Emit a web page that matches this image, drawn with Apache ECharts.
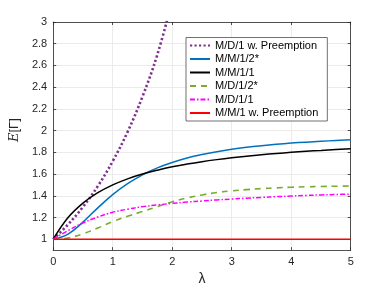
<!DOCTYPE html>
<html>
<head>
<meta charset="utf-8">
<script src="https://cdn.jsdelivr.net/npm/echarts@6/dist/echarts.min.js"></script>
<style>html,body{margin:0;padding:0;background:#fff}#c{width:388px;height:291px}</style>
</head>
<body>
<div id="c"></div>
<script>
var lambda = [0, 0.25, 0.5, 0.75, 1, 1.25, 1.5, 1.75, 2, 2.25, 2.5, 2.75, 3, 3.25, 3.5, 3.75, 4, 4.25, 4.5, 4.75, 5];
var mdPre = [1, 1.136, 1.297, 1.489, 1.718, 1.988, 2.312, 2.699, 3.195];
var mm12 = [1, 1.047, 1.158, 1.289, 1.410, 1.511, 1.593, 1.657, 1.707, 1.748, 1.780, 1.806, 1.828, 1.846, 1.861, 1.874, 1.885, 1.894, 1.902, 1.909, 1.916];
var mm11 = [1, 1.2, 1.333, 1.429, 1.5, 1.556, 1.6, 1.636, 1.667, 1.692, 1.714, 1.733, 1.75, 1.765, 1.778, 1.789, 1.8, 1.81, 1.818, 1.826, 1.833];
var md12 = [1, 1.012, 1.05, 1.103, 1.162, 1.212, 1.255, 1.3, 1.345, 1.38, 1.408, 1.43, 1.445, 1.457, 1.466, 1.473, 1.479, 1.483, 1.486, 1.488, 1.49];
var md11 = [1, 1.08, 1.15, 1.205, 1.248, 1.277, 1.3, 1.316, 1.33, 1.342, 1.352, 1.362, 1.37, 1.378, 1.385, 1.392, 1.398, 1.403, 1.408, 1.412, 1.415];
var mmPre = [1, 1, 1, 1, 1, 1, 1, 1, 1, 1, 1, 1, 1, 1, 1, 1, 1, 1, 1, 1, 1];
var names = ['M/D/1 w. Preemption', 'M/M/1/2*', 'M/M/1/1', 'M/D/1/2*', 'M/D/1/1', 'M/M/1 w. Preemption'];
var xTicks = [0, 1, 2, 3, 4, 5];
var yTicks = [1, 1.2, 1.4, 1.6, 1.8, 2, 2.2, 2.4, 2.6, 2.8, 3];

function pairs(ys) { return ys.map(function (v, i) { return [lambda[i], v]; }); }

var axisColor = '#262626';
var font = 'Liberation Sans, Arial, Helvetica, sans-serif';
var chart = echarts.init(document.getElementById('c'));
function mk(name, ys, color, type, width) {
  return {
    name: name, type: 'line', data: pairs(ys), smooth: 0.4,
    symbol: 'none', showSymbol: false, animation: false,
    lineStyle: { color: color, width: width, type: type }, itemStyle: { color: color }
  };
}
chart.setOption({
  animation: false,
  textStyle: { fontFamily: font },
  grid: { left: 50.7, right: 37.3, top: 22, bottom: 32.5 },
  legend: {
    orient: 'vertical', left: 186, top: 37.5,
    data: names,
    backgroundColor: '#fff', borderColor: '#4d4d4d', borderWidth: 0.8, borderRadius: 0,
    padding: [2, 9, 2, 3], itemGap: 1.5, itemWidth: 20, itemHeight: 10,
    itemStyle: { opacity: 0, borderWidth: 0 },
    lineStyle: { opacity: 1 },
    textStyle: { fontSize: 11, color: '#000', fontFamily: font, lineHeight: 12 }
  },
  xAxis: [{
    type: 'value', min: 0, max: 5, interval: 1,
    name: 'λ', nameLocation: 'middle', nameGap: 20,
    nameTextStyle: { fontSize: 14, color: axisColor, fontFamily: font },
    axisLine: { onZero: false, lineStyle: { color: axisColor, width: 0.8 } },
    axisTick: { inside: true, length: 3, lineStyle: { color: axisColor, width: 0.8 } },
    axisLabel: { color: axisColor, fontSize: 11, margin: 6, fontFamily: font, customValues: xTicks },
    splitLine: { show: true, lineStyle: { color: '#ebebeb', width: 1 } }
  }, {
    type: 'value', min: 0, max: 5, interval: 1, position: 'top',
    axisLine: { onZero: false, lineStyle: { color: axisColor, width: 0.8 } },
    axisTick: { inside: true, length: 3, lineStyle: { color: axisColor, width: 0.8 } },
    axisLabel: { show: false }, splitLine: { show: false }
  }],
  yAxis: [{
    type: 'value', min: 0.9, max: 3,
    name: '{i|E}[Γ]', nameLocation: 'middle', nameGap: 24, nameRotate: 90,
    nameTextStyle: { fontSize: 13, color: axisColor, fontFamily: font, padding: [0, 0, 0, 12],
      rich: { i: { fontStyle: 'italic', fontSize: 13, color: axisColor, fontFamily: 'DejaVu Serif, serif' } } },
    axisLine: { onZero: false, lineStyle: { color: axisColor, width: 0.8 } },
    axisTick: { inside: true, length: 3, customValues: yTicks, lineStyle: { color: axisColor, width: 0.8 } },
    axisLabel: { color: axisColor, fontSize: 11, margin: 6, fontFamily: font, customValues: yTicks },
    splitLine: { show: true, lineStyle: { color: '#ebebeb', width: 1 } }
  }, {
    type: 'value', min: 0.9, max: 3, position: 'right',
    axisLine: { onZero: false, lineStyle: { color: axisColor, width: 0.8 } },
    axisTick: { inside: true, length: 3, customValues: yTicks, lineStyle: { color: axisColor, width: 0.8 } },
    axisLabel: { show: false }, splitLine: { show: false }
  }],
  series: [
    mk(names[0], mdPre, '#7E2F8E', [2.2, 2.3], 2.6),
    mk(names[1], mm12, '#0072BD', 'solid', 1.5),
    mk(names[2], mm11, '#000000', 'solid', 1.5),
    mk(names[3], md12, '#77AC30', [6, 5], 1.6),
    mk(names[4], md11, '#FF00FF', [5, 2, 1.5, 2], 1.5),
    mk(names[5], mmPre, '#FF0000', 'solid', 1.5)
  ]
});
</script>
</body>
</html>
